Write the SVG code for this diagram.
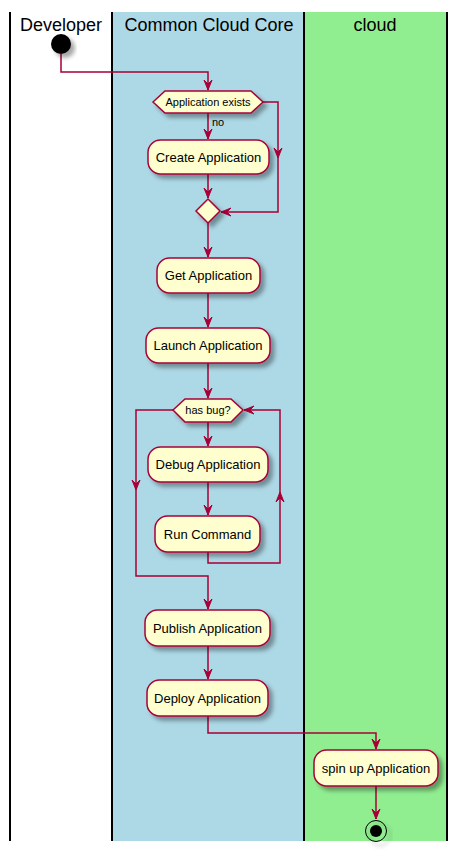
<svg xmlns="http://www.w3.org/2000/svg" width="458" height="851" viewBox="0 0 458 851">
<defs>
<filter id="sh" x="-20%" y="-20%" width="150%" height="160%">
<feGaussianBlur in="SourceAlpha" stdDeviation="2"/>
<feOffset dx="4" dy="4" result="b"/>
<feColorMatrix in="b" type="matrix" values="0 0 0 0 0  0 0 0 0 0  0 0 0 0 0  0 0 0 0.35 0"/>
<feMerge><feMergeNode/><feMergeNode in="SourceGraphic"/></feMerge>
</filter>
</defs>
<style>
.lane{stroke:#000;stroke-width:2}
.act{fill:#FEFECE;stroke:#A80036;stroke-width:1.5;filter:url(#sh)}
.t{font-family:"Liberation Sans",Arial,sans-serif;font-size:13px;fill:#000;text-anchor:middle}
.ts{font-family:"Liberation Sans",Arial,sans-serif;font-size:11px;fill:#000;text-anchor:middle}
.lt{font-family:"Liberation Sans",Arial,sans-serif;font-size:18px;fill:#000;text-anchor:middle}
.c{fill:none;stroke:#A80036;stroke-width:1.5}
.ah{fill:#A80036;stroke:#A80036;stroke-width:1}
</style>
<rect width="458" height="851" fill="#fff"/>
<g id="lanes">
<rect x="112" y="12" width="192" height="829" fill="#ADD8E6"/>
<rect x="304" y="12" width="143" height="829" fill="#90EE90"/>
<line class="lane" x1="10" y1="12" x2="10" y2="841"/>
<line class="lane" x1="112" y1="12" x2="112" y2="841"/>
<line class="lane" x1="304" y1="12" x2="304" y2="841"/>
<line class="lane" x1="447" y1="12" x2="447" y2="841"/>
<text class="lt" x="61" y="31">Developer</text>
<text class="lt" x="209" y="31">Common Cloud Core</text>
<text class="lt" x="375" y="31">cloud</text>
</g>
<g id="connectors">
<polyline class="c" points="61,54 61,72 208,72 208,90"/>
<polygon class="ah" points="208,90 204,80 208,84 212,80"/>
<line class="c" x1="208" y1="113" x2="208" y2="139"/>
<polygon class="ah" points="208,139 204,129 208,133 212,129"/>
<text class="ts" x="218" y="126">no</text>
<polyline class="c" points="263,102 278,102 278,212 221,212"/>
<polygon class="ah" points="278,158 274,148 278,152 282,148"/>
<polygon class="ah" points="221,212 231,208 227,212 231,216"/>
<line class="c" x1="208" y1="174" x2="208" y2="198"/>
<polygon class="ah" points="208,198 204,188 208,192 212,188"/>
<line class="c" x1="208" y1="223" x2="208" y2="257"/>
<polygon class="ah" points="208,257 204,247 208,251 212,247"/>
<line class="c" x1="208" y1="293" x2="208" y2="327"/>
<polygon class="ah" points="208,327 204,317 208,321 212,317"/>
<line class="c" x1="208" y1="363" x2="208" y2="398"/>
<polygon class="ah" points="208,398 204,388 208,392 212,388"/>
<line class="c" x1="208" y1="422" x2="208" y2="446"/>
<polygon class="ah" points="208,446 204,436 208,440 212,436"/>
<line class="c" x1="208" y1="482" x2="208" y2="515"/>
<polygon class="ah" points="208,515 204,505 208,509 212,505"/>
<polyline class="c" points="208,552 208,563 280,563 280,410 244,410"/>
<polygon class="ah" points="280,492 276,502 280,498 284,502"/>
<polygon class="ah" points="244,410 254,406 250,410 254,414"/>
<polyline class="c" points="173,410 136,410 136,576 208,576 208,609"/>
<polygon class="ah" points="136,490 132,480 136,484 140,480"/>
<polygon class="ah" points="208,609 204,599 208,603 212,599"/>
<line class="c" x1="208" y1="646" x2="208" y2="679"/>
<polygon class="ah" points="208,679 204,669 208,673 212,669"/>
<polyline class="c" points="208,716 208,733 376,733 376,749"/>
<polygon class="ah" points="376,749 372,739 376,743 380,739"/>
<line class="c" x1="376" y1="786" x2="376" y2="819"/>
<polygon class="ah" points="376,819 372,809 376,813 380,809"/>
</g>
<g id="start">
<circle cx="61" cy="44" r="10" fill="#000" filter="url(#sh)"/>
</g>
<g id="dec1">
<polygon class="act" points="153,102 165,91 251,91 263,102 251,113 165,113"/>
<text class="ts" x="208" y="106">Application exists</text>
</g>
<g id="create">
<rect class="act" x="148" y="140" width="121" height="34" rx="12.5"/>
<text class="t" x="208.5" y="161.5">Create Application</text>
</g>
<g id="merge1">
<polygon class="act" points="208,199 220,211 208,223 196,211"/>
</g>
<g id="get">
<rect class="act" x="157" y="258" width="103" height="35" rx="12.5"/>
<text class="t" x="208.5" y="280">Get Application</text>
</g>
<g id="launch">
<rect class="act" x="146" y="328" width="124" height="35" rx="12.5"/>
<text class="t" x="208" y="350">Launch Application</text>
</g>
<g id="dec2">
<polygon class="act" points="173,410 185,399 231,399 243,410 231,422 185,422"/>
<text class="ts" x="208" y="414">has bug?</text>
</g>
<g id="debug">
<rect class="act" x="148" y="447" width="120" height="35" rx="12.5"/>
<text class="t" x="208" y="469">Debug Application</text>
</g>
<g id="run">
<rect class="act" x="155" y="516" width="105" height="36" rx="12.5"/>
<text class="t" x="207.5" y="538.5">Run Command</text>
</g>
<g id="publish">
<rect class="act" x="145" y="610" width="125" height="36" rx="12.5"/>
<text class="t" x="207.5" y="632.5">Publish Application</text>
</g>
<g id="deploy">
<rect class="act" x="147" y="680" width="121" height="36" rx="12.5"/>
<text class="t" x="207.5" y="702.5">Deploy Application</text>
</g>
<g id="spin">
<rect class="act" x="314" y="750" width="124" height="36" rx="12.5"/>
<text class="t" x="376" y="772.5">spin up Application</text>
</g>
<g id="end">
<circle cx="376" cy="831" r="10.5" fill="none" stroke="#000" stroke-width="1" filter="url(#sh)"/>
<circle cx="376" cy="831" r="6" fill="#000"/>
</g>
</svg>
